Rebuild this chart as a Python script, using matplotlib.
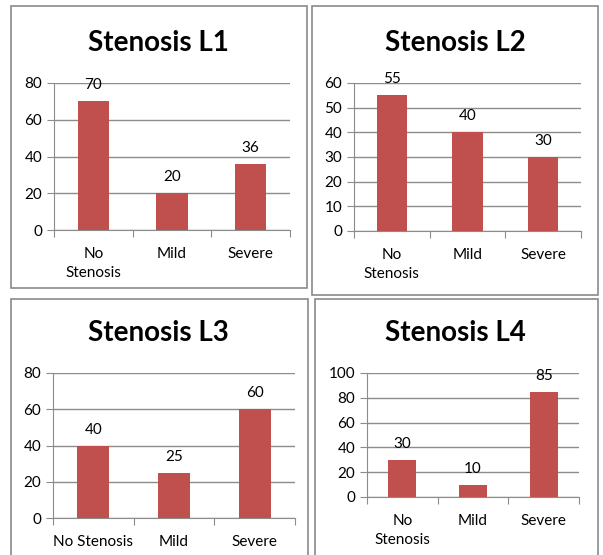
import matplotlib.pyplot as plt
from matplotlib.patches import Rectangle

plt.rcParams['font.family'] = ['Lato', 'DejaVu Sans']

categories = ['No\nStenosis', 'Mild', 'Severe']
categories_l3 = ['No Stenosis', 'Mild', 'Severe']
titles = ['Stenosis L1', 'Stenosis L2', 'Stenosis L3', 'Stenosis L4']
l1 = [70, 20, 36]
l2 = [55, 40, 30]
l3 = [40, 25, 60]
l4 = [30, 10, 85]
ymax = [80, 60, 80, 100]
ystep = [20, 10, 20, 20]

W, H = 603, 555
fig = plt.figure(figsize=(W / 100, H / 100), dpi=100)

bar_color = '#C0504D'
grid_color = '#8C8C8C'

# panel borders (px: left, top, right, bottom)
borders = [(11, 6, 307, 288), (312, 6, 598, 295), (11, 299, 308, 560), (315, 299, 598, 560)]
for l, t, r, b in borders:
    fig.patches.append(Rectangle((l / W, 1 - b / H), (r - l) / W, (b - t) / H,
                                 transform=fig.transFigure, fill=False,
                                 edgecolor='#8A8A8A', linewidth=1.2))

# axes boxes in px: left, right, top, bottom
boxes = [(54, 290, 83, 230), (354, 581, 83, 231), (53, 295, 373, 518), (367, 579, 373, 497)]
title_pos = [(158, 43), (455, 43), (158, 333), (455, 333)]
data = [l1, l2, l3, l4]
labels = [categories, categories, categories_l3, categories]

for i in range(4):
    l, r, t, b = boxes[i]
    ax = fig.add_axes([l / W, 1 - b / H, (r - l) / W, (b - t) / H])
    x = range(len(data[i]))
    ax.bar(x, data[i], width=0.4, color=bar_color, zorder=3)
    for xi, v in zip(x, data[i]):
        ax.annotate(str(v), (xi, v), xytext=(0, 11.5), textcoords='offset points',
                    ha='center', va='center', fontsize=11)
    ax.set_xlim(-0.5, 2.5)
    ax.set_ylim(0, ymax[i])
    ax.set_yticks(range(0, ymax[i] + 1, ystep[i]))
    ax.yaxis.grid(True, color=grid_color, linewidth=1, zorder=0)
    ax.set_xticks([-0.5, 0.5, 1.5, 2.5])
    ax.set_xticklabels([])
    ax.set_xticks(list(x), minor=True)
    ax.set_xticklabels(labels[i], minor=True, fontsize=11, linespacing=1.5)
    ax.tick_params(axis='x', which='minor', length=0, pad=12)
    ax.tick_params(axis='x', which='major', length=5, color=grid_color)
    ax.tick_params(axis='y', length=5, color=grid_color, labelsize=11)
    for s in ['top', 'right']:
        ax.spines[s].set_visible(False)
    for s in ['left', 'bottom']:
        ax.spines[s].set_color(grid_color)
    fig.text(title_pos[i][0] / W, 1 - title_pos[i][1] / H, titles[i],
             ha='center', va='center', fontsize=20, fontweight='bold')

fig.savefig('out.png', dpi=100)
